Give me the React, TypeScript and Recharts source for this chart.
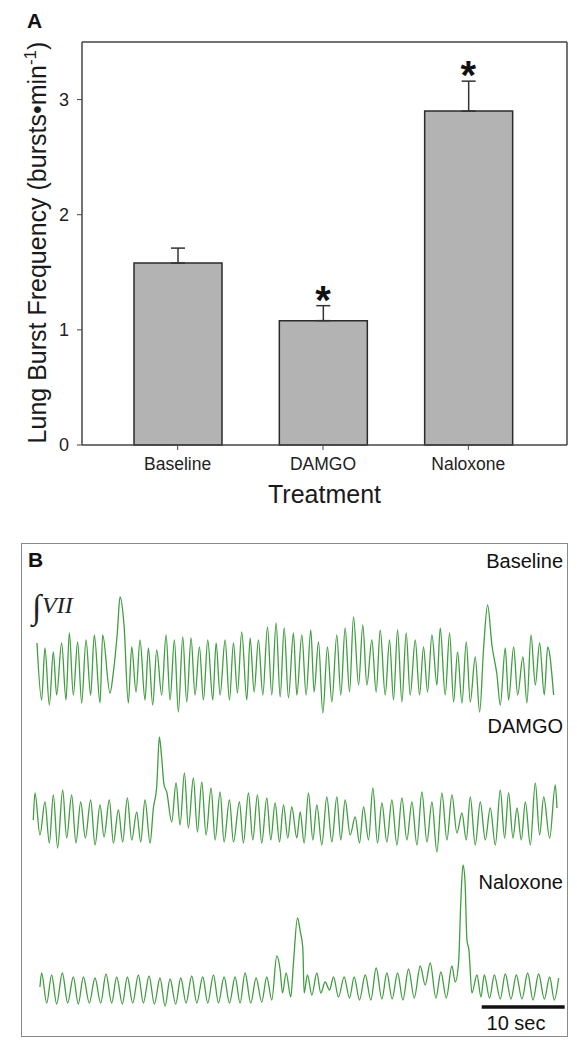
import React from "react";
import {
  ComposedChart,
  Bar,
  ErrorBar,
  Line,
  LineChart,
  XAxis,
  YAxis,
  Label,
  ReferenceLine,
} from "recharts";

const FONT = '"Liberation Sans", Arial, Helvetica, sans-serif';
const SERIF = '"Liberation Serif", "Times New Roman", serif';

// panel A: lung burst frequency (bursts/min), mean + SEM
const treatments = ["Baseline", "DAMGO", "Naloxone"];
const burstFreq = [1.58, 1.08, 2.9];
const burstSem = [0.13, 0.13, 0.26];
const significant = [false, true, true];
const freqTicks = [0, 1, 2, 3];

// panel B: integrated VII nerve traces, [time (s), amplitude (a.u.)]
const baselineTrace: [number, number][] = [
  [0, 77], [0.56, 20], [0.96, 72], [1.49, 15], [1.97, 68], [2.37, 25], [2.97, 77], [3.5, 20],
  [3.9, 87], [4.38, 25], [4.9, 78], [5.39, 17], [5.91, 80], [6.47, 25], [6.91, 85], [7.6, 17],
  [7.92, 85], [8.8, 27], [9.21, 48], [9.69, 88], [10.01, 123], [10.49, 95], [11.01, 17],
  [11.42, 73], [11.94, 28], [12.42, 80], [13.02, 20], [13.43, 72], [13.95, 15], [14.43, 70],
  [15.03, 25], [15.56, 85], [16.04, 20], [16.56, 80], [17.04, 8], [17.57, 83], [18.05, 18],
  [18.57, 82], [19.05, 25], [19.58, 73], [20.06, 20], [20.58, 80], [21.19, 20], [21.59, 77],
  [22.07, 25], [22.67, 80], [23.2, 20], [23.68, 77], [24.16, 27], [24.68, 88], [25.29, 20],
  [25.69, 82], [26.17, 28], [26.69, 80], [27.22, 25], [27.78, 93], [28.3, 25], [28.82, 97],
  [29.31, 23], [29.79, 92], [30.31, 22], [30.91, 87], [31.32, 25], [31.92, 85], [32.44, 25],
  [33.0, 90], [33.4, 28], [33.93, 78], [34.45, 7], [35.01, 73], [35.54, 18], [36.14, 85],
  [36.62, 25], [37.14, 92], [37.67, 28], [38.15, 103], [38.76, 35], [39.27, 95], [39.76, 35],
  [40.36, 80], [40.88, 28], [41.37, 90], [41.97, 25], [42.49, 80], [42.97, 20], [43.46, 90],
  [43.98, 18], [44.5, 87], [44.98, 25], [45.59, 80], [46.11, 25], [46.59, 73], [47.07, 28],
  [47.6, 85], [48.2, 35], [48.6, 92], [49.2, 25], [49.73, 87], [50.21, 18], [50.69, 68],
  [51.22, 17], [51.74, 78], [52.22, 18], [52.82, 63], [53.35, 8], [53.83, 72], [54.31, 115],
  [54.83, 75], [55.44, 45], [55.84, 15], [56.44, 72], [56.84, 20], [57.45, 73], [57.93, 25],
  [58.57, 63], [59.05, 17], [59.54, 85], [60.06, 35], [60.58, 77], [61.14, 25], [61.55, 73],
  [62.27, 25],
];

const damgoTrace: [number, number][] = [
  [-0.44, 50], [-0.24, 77], [0.36, 35], [0.96, 68], [1.49, 27], [1.97, 75], [2.49, 22],
  [3.1, 80], [3.58, 32], [4.18, 75], [4.7, 27], [5.27, 68], [5.83, 32], [6.47, 70], [7.0, 25],
  [7.6, 65], [8.08, 33], [8.72, 70], [9.21, 27], [9.81, 60], [10.33, 28], [10.89, 72],
  [11.42, 30], [12.02, 58], [12.5, 28], [13.02, 70], [13.63, 27], [14.03, 62], [14.43, 83],
  [14.75, 133], [15.03, 112], [15.32, 85], [15.64, 78], [16.24, 48], [16.76, 87], [17.25, 45],
  [17.77, 97], [18.25, 42], [18.85, 92], [19.34, 38], [19.86, 88], [20.38, 35], [20.98, 82],
  [21.47, 30], [22.07, 78], [22.55, 28], [23.2, 70], [23.68, 28], [24.4, 68], [24.88, 27],
  [25.49, 77], [26.01, 30], [26.57, 75], [27.09, 27], [27.7, 72], [28.18, 30], [28.7, 67],
  [29.23, 28], [29.71, 65], [30.23, 32], [30.71, 63], [31.32, 32], [31.72, 58], [32.2, 27],
  [32.72, 77], [33.25, 30], [33.73, 65], [34.33, 25], [34.93, 73], [35.54, 28], [36.14, 73],
  [36.62, 30], [37.14, 70], [37.75, 35], [38.35, 53], [38.87, 27], [39.36, 63], [39.96, 30],
  [40.48, 82], [41.04, 27], [41.57, 67], [42.17, 28], [42.77, 70], [43.38, 25], [43.98, 72],
  [44.58, 30], [45.19, 68], [45.79, 25], [46.39, 78], [47.0, 28], [47.6, 68], [48.2, 18],
  [48.8, 77], [49.41, 30], [50.01, 75], [50.61, 37], [51.22, 57], [51.74, 30], [52.22, 73],
  [52.82, 25], [53.43, 68], [54.03, 30], [54.63, 62], [55.24, 25], [55.84, 80], [56.36, 32],
  [56.84, 77], [57.37, 32], [57.85, 62], [58.37, 30], [58.86, 68], [59.46, 25], [60.06, 87],
  [60.58, 35], [61.07, 73], [61.79, 32], [62.47, 85], [62.67, 62],
];

const naloxoneTrace: [number, number][] = [
  [0.36, 23], [0.56, 37], [1.17, 7], [1.77, 35], [2.37, 6], [3.06, 37], [3.7, 7], [4.38, 33],
  [4.98, 6], [5.59, 33], [6.31, 7], [6.99, 32], [7.68, 7], [8.32, 36], [9.0, 7], [9.61, 33],
  [10.29, 6], [10.89, 33], [11.54, 7], [12.22, 35], [12.82, 7], [13.51, 34], [14.15, 6],
  [14.83, 32], [15.44, 4], [16.04, 31], [16.72, 6], [17.33, 32], [17.97, 7], [18.65, 34],
  [19.26, 7], [19.98, 33], [20.58, 7], [21.27, 35], [21.87, 7], [22.55, 33], [23.2, 7],
  [23.88, 33], [24.48, 7], [25.08, 37], [25.77, 7], [26.41, 32], [27.09, 8], [27.7, 33],
  [28.3, 10], [28.9, 54], [29.31, 40], [29.59, 17], [30.03, 37], [30.59, 13], [30.91, 47],
  [31.4, 92], [31.72, 79], [32.04, 62], [32.2, 17], [32.6, 35], [33.13, 15], [33.73, 37],
  [34.21, 17], [34.73, 28], [35.26, 20], [35.74, 33], [36.34, 13], [37.02, 33], [37.67, 12],
  [38.23, 33], [38.87, 10], [39.56, 35], [40.24, 10], [40.88, 42], [41.57, 11], [42.17, 37],
  [42.81, 11], [43.46, 37], [44.1, 10], [44.78, 41], [45.47, 12], [46.19, 44], [46.79, 25],
  [47.4, 47], [48.08, 12], [48.68, 38], [49.33, 12], [50.01, 44], [50.41, 28], [50.81, 47],
  [51.09, 110], [51.34, 145], [51.58, 130], [51.82, 70], [52.06, 60], [52.42, 17], [53.03, 35],
  [53.51, 13], [53.91, 35], [54.55, 12], [55.12, 35], [55.84, 11], [56.44, 36], [57.13, 11],
  [57.77, 35], [58.45, 11], [59.14, 37], [59.78, 10], [60.46, 36], [61.15, 11], [61.79, 33],
  [62.35, 10], [62.87, 32],
];

const timeDomain: [number, number] = [-0.84, 64];
const scaleBarSec: [number, number] = [53.6, 63.6];

const barData = treatments.map((name, i) => ({
  name,
  freq: burstFreq[i],
  err: [0, burstSem[i]],
  star: significant[i] ? burstFreq[i] + burstSem[i] : null,
}));

const StarDot = (props: any) => {
  const { cx, cy, payload, index } = props;
  if (payload?.star == null || cy == null) return <g key={`s${index}`} />;
  return (
    <text
      key={`s${index}`}
      x={cx}
      y={cy + 8}
      textAnchor="middle"
      fontSize={40}
      fontWeight="bold"
      fontFamily={FONT}
      fill="#111"
    >
      *
    </text>
  );
};

const YTitle = (props: any) => {
  const vb = props.viewBox || { x: 0, y: 42, width: 82, height: 403 };
  const cx = 46;
  const cy = vb.y + vb.height / 2 - 1;
  return (
    <text
      transform={`rotate(-90, ${cx}, ${cy})`}
      x={cx}
      y={cy}
      textAnchor="middle"
      fontSize={25}
      fontFamily={FONT}
      fill="#1a1a1a"
    >
      Lung Burst Frequency (bursts•min
      <tspan dy={-10} fontSize={17}>-1</tspan>
      <tspan dy={10}>)</tspan>
    </text>
  );
};

const XTitle = (props: any) => {
  const vb = props.viewBox || { x: 82, y: 445, width: 485, height: 75 };
  return (
    <text
      x={vb.x + vb.width / 2}
      y={vb.y + 58}
      textAnchor="middle"
      fontSize={25}
      fontFamily={FONT}
      fill="#1a1a1a"
    >
      Treatment
    </text>
  );
};

function TraceChart({
  trace,
  top,
  range,
  children,
}: {
  trace: [number, number][];
  top: number;
  range: [number, number];
  children?: React.ReactNode;
}) {
  const data = trace.map(([t, v]) => ({ t, v }));
  return (
    <div style={{ position: "absolute", left: 30, top }}>
      <LineChart
        width={538}
        height={range[1] - range[0]}
        data={data}
        margin={{ top: 0, right: 0, bottom: 0, left: 0 }}
      >
        <XAxis type="number" dataKey="t" domain={timeDomain} allowDataOverflow hide />
        <YAxis type="number" domain={range} allowDataOverflow hide />
        <Line
          type="monotone"
          dataKey="v"
          stroke="#3f9e3f"
          strokeWidth={1.3}
          dot={false}
          activeDot={false}
          isAnimationActive={false}
        />
        {children}
      </LineChart>
    </div>
  );
}

export default function App() {
  const axisLine = { stroke: "#444", strokeWidth: 1.5 };
  return (
    <div style={{ position: "relative", width: 577, height: 1050, background: "#fff", fontFamily: FONT }}>
      <style>{"body{margin:0}"}</style>

      {/* panel A */}
      <div style={{ position: "absolute", left: 0, top: 0 }}>
        <ComposedChart
          width={577}
          height={520}
          data={barData}
          margin={{ top: 41, right: 9, bottom: 0, left: 0 }}
        >
          <XAxis
            dataKey="name"
            height={75}
            interval={0}
            padding={{ left: 23, right: 26 }}
            tickSize={5}
            tickMargin={8}
            axisLine={axisLine}
            tickLine={{ stroke: "#444" }}
            tick={{ fontSize: 17.5, fill: "#222", fontFamily: FONT }}
          >
            <Label content={<XTitle />} />
          </XAxis>
          <XAxis
            xAxisId="top"
            orientation="top"
            dataKey="name"
            height={1}
            tick={false}
            tickLine={false}
            axisLine={axisLine}
          />
          <YAxis
            domain={[0, 3.5]}
            ticks={freqTicks}
            width={82}
            tickSize={5}
            tickMargin={8}
            axisLine={axisLine}
            tickLine={{ stroke: "#444" }}
            tick={{ fontSize: 18, fill: "#222", fontFamily: FONT }}
          >
            <Label content={<YTitle />} />
          </YAxis>
          <YAxis
            yAxisId="right"
            orientation="right"
            domain={[0, 3.5]}
            width={1}
            tick={false}
            tickLine={false}
            axisLine={axisLine}
          />
          <Bar
            dataKey="freq"
            barSize={88}
            fill="#b3b3b3"
            stroke="#2b2b2b"
            strokeWidth={1.5}
            isAnimationActive={false}
          >
            <ErrorBar
              dataKey="err"
              direction="y"
              width={7}
              stroke="#333"
              strokeWidth={1.5}
              isAnimationActive={false}
            />
          </Bar>
          <Line
            dataKey="star"
            stroke="none"
            dot={<StarDot />}
            activeDot={false}
            legendType="none"
            isAnimationActive={false}
          />
        </ComposedChart>
      </div>

      {/* panel B */}
      <div
        style={{
          position: "absolute",
          left: 21,
          top: 543,
          width: 547,
          height: 494,
          boxSizing: "border-box",
          border: "1.5px solid #8a8a8a",
        }}
      />
      <TraceChart trace={baselineTrace} top={590} range={[0, 130]} />
      <TraceChart trace={damgoTrace} top={730} range={[0, 140]} />
      <TraceChart trace={naloxoneTrace} top={860} range={[0, 150]}>
        <ReferenceLine
          segment={[
            { x: scaleBarSec[0], y: 3 },
            { x: scaleBarSec[1], y: 3 },
          ]}
          stroke="#111"
          strokeWidth={3.5}
          ifOverflow="visible"
        />
      </TraceChart>

      <svg
        width={577}
        height={1050}
        style={{ position: "absolute", left: 0, top: 0, pointerEvents: "none" }}
      >
        <g fontFamily={FONT} fill="#111">
          <text x={27} y={28} fontSize={21} fontWeight="bold">A</text>
          <text x={28} y={567} fontSize={21} fontWeight="bold">B</text>
          <text x={563} y={568} fontSize={20} textAnchor="end">Baseline</text>
          <text x={563} y={733} fontSize={20} textAnchor="end">DAMGO</text>
          <text x={563} y={889} fontSize={20} textAnchor="end">Naloxone</text>
          <text x={516} y={1030} fontSize={20} textAnchor="middle">10 sec</text>
        </g>
        <g fontFamily={SERIF} fill="#222">
          <text x={32} y={618} fontSize={34}>∫</text>
          <text x={42} y={613} fontSize={24} fontStyle="italic">VII</text>
        </g>
      </svg>
    </div>
  );
}
